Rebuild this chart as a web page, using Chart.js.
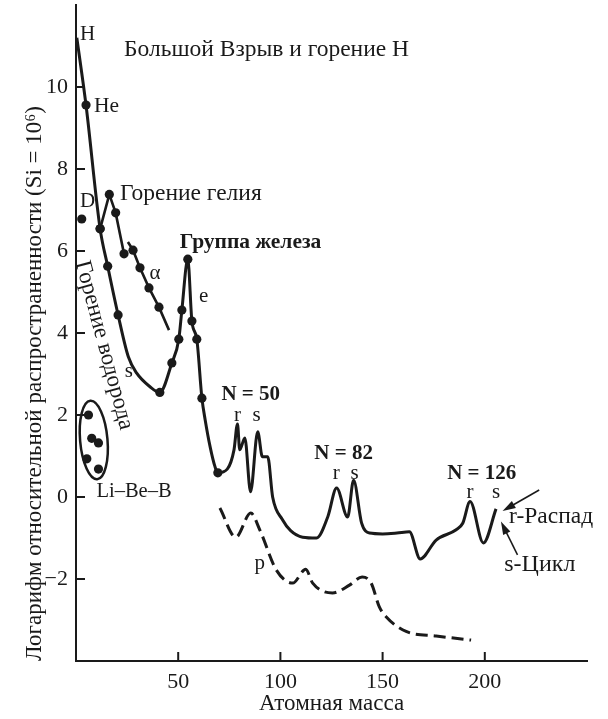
<!DOCTYPE html>
<html>
<head>
<meta charset="utf-8">
<script src="https://cdn.jsdelivr.net/npm/chart.js@4.4.1/dist/chart.umd.min.js"></script>
<style>
  body { margin: 0; background: #fff; }
  #wrap { width: 608px; height: 719px; }
</style>
</head>
<body>
<div id="wrap"><canvas id="grafico" width="608" height="719"></canvas></div>
<script>
// ---- valores ----
const xTicks = [50, 100, 150, 200];
const yTicks = [-2, 0, 2, 4, 6, 8, 10];

// curva principal: H -> He -> rama s -> grupo del hierro -> picos N=50, 82, 126
const mainX = [0.4, 4.9, 11.8, 15.5, 20.6, 25.6, 29.7, 36.2, 41, 46.9, 50.3, 51.8, 54.7, 56.7, 59.1, 61.6, 63.2, 65.6, 68, 69.4,
  74, 77.3, 79, 80.1, 82.6, 85.4, 88.9, 91.2, 93.8, 96.2, 101.1, 105, 110.9, 117.7, 123.2, 127.5, 132.9, 135.8,
  139.7, 143.6, 150, 157, 163.1, 168.4, 176.2, 186, 189.2, 192.8, 199.3, 205.5];
const mainY = [11.2, 9.56, 6.54, 5.63, 4.44, 3.42, 3.02, 2.69, 2.55, 3.27, 3.85, 4.56, 5.8, 4.29, 3.85, 2.41, 1.88, 1.23, 0.74, 0.59,
  0.68, 1.15, 1.78, 1.15, 1.44, 0.13, 1.59, 0.98, 0.98, 0, -0.56, -0.82, -0.98, -1.0, -0.48, 0.22, -0.49, 0.41,
  -0.63, -0.88, -0.9, -0.88, -0.85, -1.51, -1.05, -0.8, -0.64, -0.11, -1.12, -0.29];

// puntos medidos sobre la curva principal
const dotsX = [4.9, 11.8, 15.5, 20.6, 41, 46.9, 50.3, 51.8, 54.7, 56.7, 59.1, 61.6, 69.4];
const dotsY = [9.56, 6.54, 5.63, 4.44, 2.55, 3.27, 3.85, 4.56, 5.8, 4.29, 3.85, 2.41, 0.59];

// combustión de helio
const heliumX = [11.8, 16.3, 19.4, 23.5];
const heliumY = [6.54, 7.38, 6.93, 5.93];

// proceso alfa
const alphaX = [25.4, 27.9, 31.3, 35.7, 40.6, 45.5];
const alphaY = [6.22, 6.02, 5.59, 5.1, 4.63, 4.07];

// deuterio
const deutX = [2.8];
const deutY = [6.78];

// Li-Be-B
const libebX = [6.1, 7.7, 11, 5.3, 11];
const libebY = [2.0, 1.43, 1.32, 0.93, 0.68];

// proceso p (discontinua)
const pX = [70.4, 78.2, 85.5, 89.9, 98, 106, 112.4, 115.8, 125.5, 133.8, 140, 144.4, 148.4, 151.7, 161.5, 176.2, 193.3];
const pY = [-0.27, -0.98, -0.39, -0.8, -1.78, -2.1, -1.76, -2.1, -2.34, -2.15, -1.95, -2.1, -2.68, -2.92, -3.28, -3.39, -3.49];

// textos del gráfico (posición en unidades de los ejes, s = tamaño de letra)
const etiquetas = [
  { t: 'H', x: 2.0, y: 11.28, a: 'left', s: 21 },
  { t: 'Большой Взрыв и горение Н', x: 23.5, y: 10.9, a: 'left', s: 23.5 },
  { t: 'He', x: 8.8, y: 9.54, a: 'left', s: 21.5 },
  { t: 'D', x: 2.0, y: 7.2, a: 'left', s: 21 },
  { t: 'Горение гелия', x: 21.5, y: 7.39, a: 'left', s: 23.5 },
  { t: 'Группа железа', x: 50.8, y: 6.22, a: 'left', s: 21.5, b: true },
  { t: 'α', x: 38.6, y: 5.45, a: 'center', s: 21 },
  { t: 'e', x: 62.5, y: 4.9, a: 'center', s: 21 },
  { t: 's', x: 25.9, y: 3.05, a: 'center', s: 21 },
  { t: 'Li–Be–B', x: 28.4, y: 0.13, a: 'center', s: 20.5 },
  { t: 'N = 50', x: 85.5, y: 2.49, a: 'center', s: 21, b: true },
  { t: 'r', x: 79, y: 2.0, a: 'center', s: 21 },
  { t: 's', x: 88.3, y: 2.0, a: 'center', s: 21 },
  { t: 'N = 82', x: 130.9, y: 1.07, a: 'center', s: 21, b: true },
  { t: 'r', x: 127.3, y: 0.58, a: 'center', s: 21 },
  { t: 's', x: 136.3, y: 0.58, a: 'center', s: 21 },
  { t: 'N = 126', x: 198.5, y: 0.58, a: 'center', s: 21, b: true },
  { t: 'r', x: 192.8, y: 0.1, a: 'center', s: 21 },
  { t: 's', x: 205.5, y: 0.1, a: 'center', s: 21 },
  { t: 'r-Распад', x: 211.9, y: -0.48, a: 'left', s: 23.5 },
  { t: 's-Цикл', x: 209.5, y: -1.66, a: 'left', s: 24 },
  { t: 'p', x: 89.9, y: -1.61, a: 'center', s: 21 }
];
const textoGirado = { t: 'Горение водорода', x: 13.7, y: 3.7, ang: 75, s: 23 };

// flechas: [desde x, desde y, hasta x, hasta y]
const flechas = [
  [226.6, 0.17, 208.7, -0.34],
  [216, -1.41, 207.9, -0.6]
];

// elipse alrededor de Li-Be-B: centro y semiejes en unidades de los ejes
const elipse = { x: 8.7, y: 1.39, rx: 6.7, ry: 0.96, giro: -5 };

const negro = '#1a1a1a';
const fuente = 'Liberation Serif';

// plugin para marcas hacia dentro y anotaciones
const anotaciones = {
  id: 'anotaciones',
  afterDraw(chart) {
    const { ctx, chartArea: area, scales: { x, y } } = chart;
    const px = v => x.getPixelForValue(v);
    const py = v => y.getPixelForValue(v);
    ctx.save();
    ctx.strokeStyle = negro;
    ctx.fillStyle = negro;

    // marcas de los ejes hacia dentro
    ctx.lineWidth = 2;
    xTicks.forEach(v => {
      ctx.beginPath();
      ctx.moveTo(px(v), area.bottom);
      ctx.lineTo(px(v), area.bottom - 9);
      ctx.stroke();
    });
    yTicks.forEach(v => {
      ctx.beginPath();
      ctx.moveTo(area.left, py(v));
      ctx.lineTo(area.left + 9, py(v));
      ctx.stroke();
    });

    // textos
    ctx.textBaseline = 'middle';
    etiquetas.forEach(e => {
      ctx.font = (e.b ? 'bold ' : '') + e.s + 'px "' + fuente + '"';
      ctx.textAlign = e.a;
      ctx.fillText(e.t, px(e.x), py(e.y));
    });

    // texto girado
    ctx.save();
    ctx.translate(px(textoGirado.x), py(textoGirado.y));
    ctx.rotate(textoGirado.ang * Math.PI / 180);
    ctx.font = textoGirado.s + 'px "' + fuente + '"';
    ctx.textAlign = 'center';
    ctx.fillText(textoGirado.t, 0, 0);
    ctx.restore();

    // elipse
    ctx.lineWidth = 2.5;
    ctx.beginPath();
    ctx.ellipse(px(elipse.x), py(elipse.y),
      Math.abs(px(elipse.rx) - px(0)), Math.abs(py(elipse.ry) - py(0)),
      elipse.giro * Math.PI / 180, 0, Math.PI * 2);
    ctx.stroke();

    // flechas
    ctx.lineWidth = 1.6;
    flechas.forEach(f => {
      const x1 = px(f[0]), y1 = py(f[1]), x2 = px(f[2]), y2 = py(f[3]);
      const a = Math.atan2(y2 - y1, x2 - x1);
      ctx.beginPath();
      ctx.moveTo(x1, y1);
      ctx.lineTo(x2 - 8 * Math.cos(a), y2 - 8 * Math.sin(a));
      ctx.stroke();
      ctx.beginPath();
      ctx.moveTo(x2, y2);
      ctx.lineTo(x2 - 13 * Math.cos(a) + 4 * Math.sin(a), y2 - 13 * Math.sin(a) - 4 * Math.cos(a));
      ctx.lineTo(x2 - 13 * Math.cos(a) - 4 * Math.sin(a), y2 - 13 * Math.sin(a) + 4 * Math.cos(a));
      ctx.closePath();
      ctx.fill();
    });
    ctx.restore();
  }
};

const pares = (xs, ys) => xs.map((v, i) => ({ x: v, y: ys[i] }));

const puntos = (xs, ys) => ({
  data: pares(xs, ys),
  showLine: false,
  pointRadius: 4.6,
  pointBackgroundColor: negro,
  pointBorderWidth: 0
});

const tickFont = { family: fuente, size: 22 };

new Chart(document.getElementById('grafico'), {
  type: 'scatter',
  data: {
    datasets: [
      puntos(dotsX, dotsY),
      puntos(deutX, deutY),
      puntos(libebX, libebY),
      {
        data: pares(heliumX, heliumY),
        showLine: true,
        borderColor: negro,
        borderWidth: 2.6,
        pointRadius: 4.6,
        pointBackgroundColor: negro,
        pointBorderWidth: 0
      },
      {
        data: pares(alphaX, alphaY),
        showLine: true,
        borderColor: negro,
        borderWidth: 2.6,
        pointRadius: ctx => (ctx.dataIndex === 0 || ctx.dataIndex === alphaX.length - 1) ? 0 : 4.6,
        pointBackgroundColor: negro,
        pointBorderWidth: 0
      },
      {
        data: pares(mainX, mainY),
        showLine: true,
        borderColor: negro,
        borderWidth: 3,
        pointRadius: 0,
        cubicInterpolationMode: 'monotone'
      },
      {
        data: pares(pX, pY),
        showLine: true,
        borderColor: negro,
        borderWidth: 3,
        borderDash: [12, 6],
        pointRadius: 0,
        cubicInterpolationMode: 'monotone'
      }
    ]
  },
  options: {
    responsive: false,
    devicePixelRatio: 1,
    animation: false,
    layout: { padding: { top: 5, right: 21, left: 0, bottom: 0 } },
    plugins: { legend: { display: false }, tooltip: { enabled: false } },
    scales: {
      x: {
        type: 'linear',
        min: 0,
        max: 250,
        afterBuildTicks: s => { s.ticks = xTicks.map(v => ({ value: v })); },
        afterFit: s => { s.height = 58; s.paddingLeft = 0; s.paddingRight = 0; },
        grid: { display: false, drawTicks: false },
        border: { display: true, color: negro, width: 2 },
        ticks: { font: tickFont, color: negro, padding: 8, maxRotation: 0 },
        title: { display: true, text: 'Атомная масса', font: { family: fuente, size: 23 }, color: negro, padding: { top: 0, bottom: 1 } }
      },
      y: {
        type: 'linear',
        min: -4,
        max: 12,
        afterBuildTicks: s => { s.ticks = yTicks.map(v => ({ value: v })); },
        afterFit: s => { s.width = 76; s.paddingTop = 0; s.paddingBottom = 0; },
        grid: { display: false, drawTicks: false },
        border: { display: true, color: negro, width: 2 },
        ticks: { font: tickFont, color: negro, padding: 8, callback: v => v < 0 ? '−' + Math.abs(v) : String(v) },
        title: { display: true, text: 'Логарифм относительной распространенности (Si = 10⁶)', align: 'start',
          font: { family: fuente, size: 23 }, color: negro, padding: { top: 21, bottom: 0 } }
      }
    }
  },
  plugins: [anotaciones]
});
</script>
</body>
</html>
